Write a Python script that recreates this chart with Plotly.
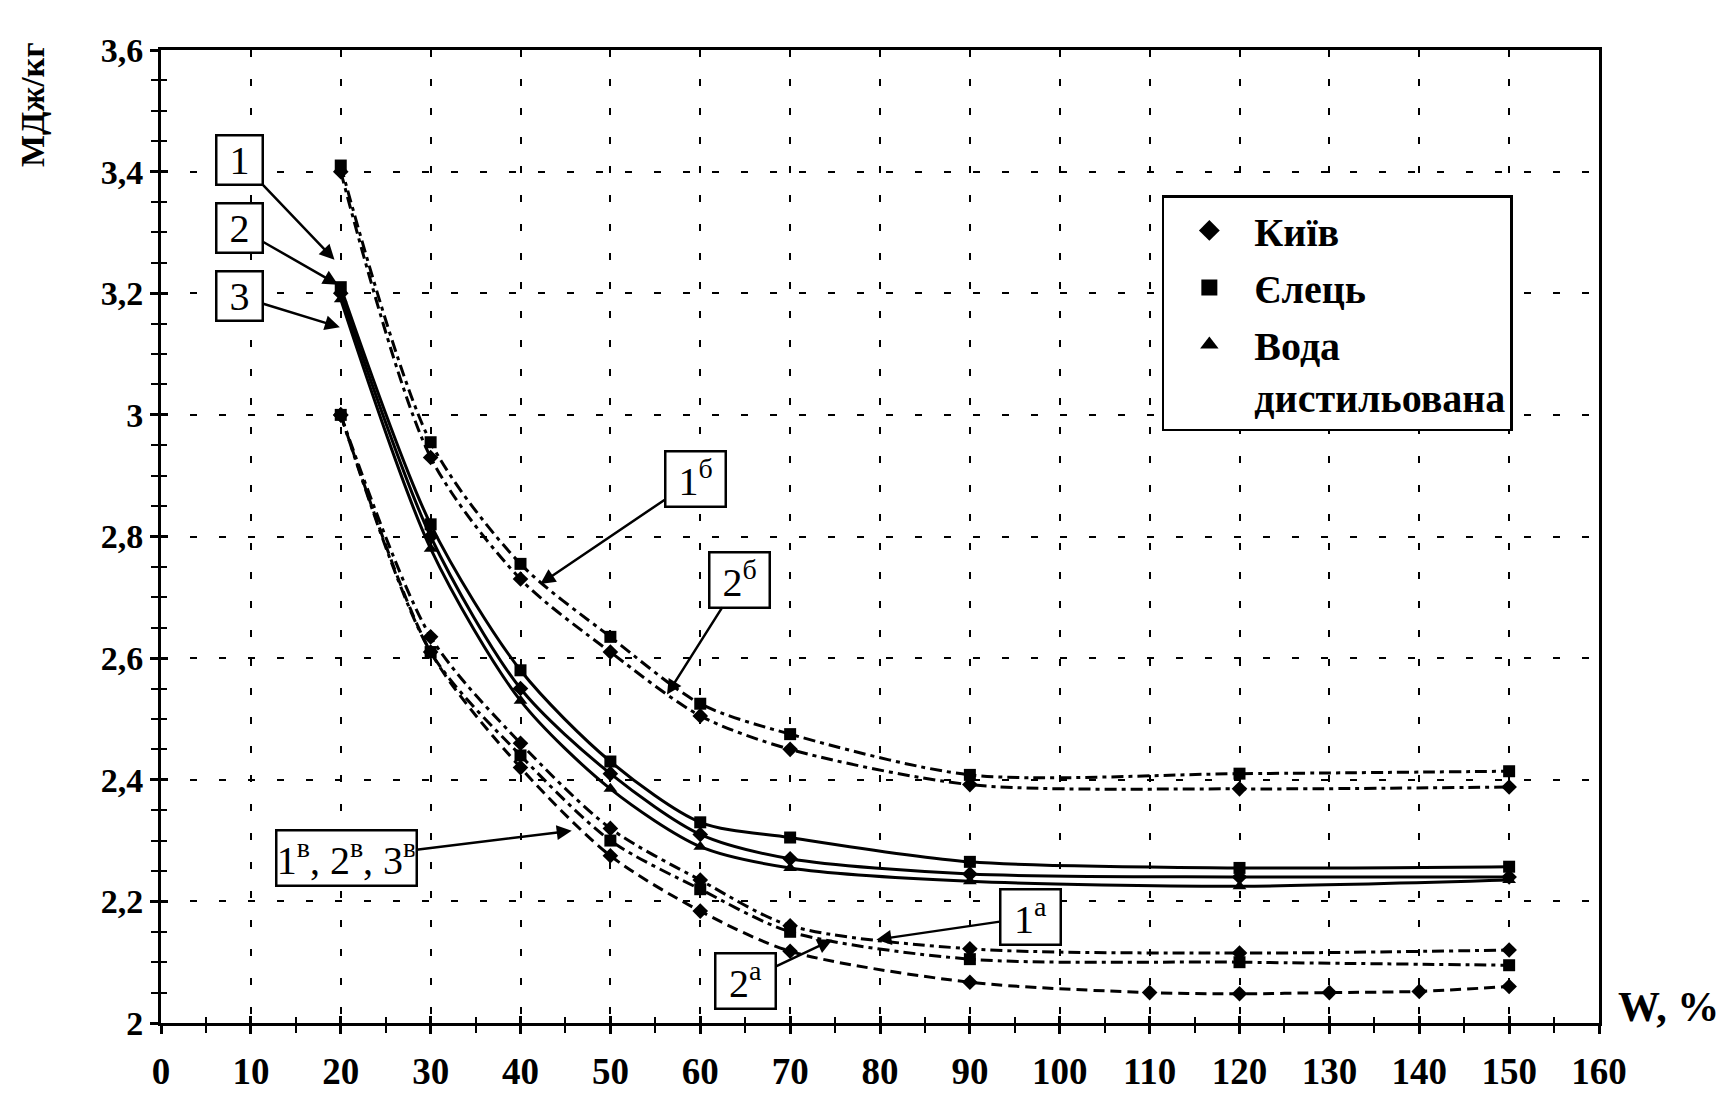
import plotly.graph_objects as go

# ---------------- data ----------------
W_main = [20, 30, 40, 50, 60, 70, 90, 120, 150]
W_low = [20, 30, 40, 50, 60, 70, 90, 110, 120, 130, 140, 150]

# solid curves 1, 2, 3
curve1 = [3.20, 2.80, 2.55, 2.41, 2.31, 2.27, 2.245, 2.24, 2.24]     # Київ
curve2 = [3.21, 2.82, 2.58, 2.43, 2.33, 2.305, 2.265, 2.255, 2.257]  # Єлець
curve3 = [3.19, 2.78, 2.53, 2.385, 2.29, 2.255, 2.233, 2.225, 2.235] # Вода

# upper dash-dot curves 1б, 2б
curve1b = [3.40, 2.93, 2.73, 2.61, 2.505, 2.45, 2.392, 2.385, 2.388]
curve2b = [3.41, 2.955, 2.755, 2.635, 2.525, 2.475, 2.408, 2.41, 2.414]

# lower curves 1а (dash-dot), 3в (dash-dot), 2а (dashed)
curve1a = [3.00, 2.635, 2.46, 2.32, 2.235, 2.16, 2.122, 2.115, 2.12]
curve3v = [3.00, 2.61, 2.44, 2.30, 2.22, 2.15, 2.105, 2.10, 2.095]
curve2a = [3.00, 2.61, 2.42, 2.275, 2.184, 2.118, 2.067, 2.05, 2.048, 2.05, 2.052, 2.06]

legend_names = ["Київ", "Єлець", "Вода<br>дистильована"]
legend_symbols = ["diamond", "square", "triangle-up"]

x_ticks = list(range(0, 161, 10))
y_ticks = [2.0, 2.2, 2.4, 2.6, 2.8, 3.0, 3.2, 3.4, 3.6]
y_ticklabels = ["2", "2,2", "2,4", "2,6", "2,8", "3", "3,2", "3,4", "3,6"]

FONT = "Liberation Serif"

fig = go.Figure()

def add_curve(x, y, dash, symbol, width=3):
    fig.add_trace(go.Scatter(
        x=x, y=y, mode="lines+markers",
        line=dict(color="black", width=width, dash=dash, shape="spline", smoothing=0.8),
        marker=dict(symbol=symbol, size=12, color="black"),
        showlegend=False, hoverinfo="x+y"))

add_curve(W_main, curve1, "solid", "diamond")
add_curve(W_main, curve2, "solid", "square")
add_curve(W_main, curve3, "solid", "triangle-up")
add_curve(W_main, curve1b, "12px,5px,4px,5px", "diamond")
add_curve(W_main, curve2b, "12px,5px,4px,5px", "square")
add_curve(W_main, curve1a, "12px,5px,4px,5px", "diamond")
add_curve(W_main, curve3v, "12px,5px,4px,5px", "square")
add_curve(W_low, curve2a, "11px,6px", "diamond")

for i, (name, sym) in enumerate(zip(legend_names, legend_symbols)):
    fig.add_trace(go.Scatter(
        x=[None], y=[None], mode="markers", name=name, legendgroup=f"g{i}",
        marker=dict(symbol=sym, size=24, color="black")))

# invisible trace on overlay axes (for crossing ticks)
fig.add_trace(go.Scatter(x=[0, 160], y=[2, 3.6], xaxis="x2", yaxis="y2", mode="markers",
                         marker=dict(opacity=0), showlegend=False, hoverinfo="skip"))

# ---------------- label boxes with arrows ----------------
labels = [
    ("1", 8.7, 3.419, 19.3, 3.255, 42),
    ("2", 8.7, 3.307, 19.7, 3.214, 42),
    ("3", 8.7, 3.195, 19.9, 3.144, 42),
    ("1<sup>б</sup>", 59.5, 2.895, 42.2, 2.722, 56),
    ("2<sup>б</sup>", 64.4, 2.729, 56.3, 2.540, 56),
    ("1<sup>в</sup>, 2<sup>в</sup>, 3<sup>в</sup>", 20.6, 2.271, 45.7, 2.316, 136),
    ("1<sup>а</sup>", 96.7, 2.174, 79.6, 2.137, 56),
    ("2<sup>а</sup>", 65.0, 2.069, 74.7, 2.137, 56),
]
for text, tx, ty, hx, hy, w in labels:
    fig.add_annotation(
        x=hx, y=hy, ax=tx, ay=ty, xref="x", yref="y", axref="x", ayref="y",
        text=text, showarrow=True, arrowhead=2, arrowsize=1.2, arrowwidth=2.5,
        arrowcolor="black", font=dict(family=FONT, size=40, color="black"),
        width=w, bordercolor="black", borderwidth=2.5, borderpad=1, bgcolor="white")

fig.add_annotation(
    x=-0.089, y=0.9435, xref="paper", yref="paper", text="<b>МДж/кг</b>", textangle=-90,
    showarrow=False, font=dict(family=FONT, size=34, color="black"),
    xanchor="center", yanchor="middle")
fig.add_annotation(
    x=1.0, y=0.0, xref="paper", yref="paper", text="<b>W, %</b>",
    showarrow=False, font=dict(family=FONT, size=42, color="black"),
    xanchor="left", yanchor="middle", xshift=17, yshift=16)

grid = dict(showgrid=True, gridcolor="black", gridwidth=2, griddash="7px,22px")

fig.update_xaxes(
    range=[0, 160], tickmode="array", tickvals=x_ticks,
    ticktext=[str(v) for v in x_ticks], automargin=False,
    tickfont=dict(family=FONT, size=37, color="black", weight="bold"),
    ticklabelstandoff=6,
    showline=True, linecolor="black", linewidth=3, mirror=True,
    ticks="outside", ticklen=8, tickwidth=2.5, tickcolor="black",
    minor=dict(dtick=5, ticks="outside", ticklen=7, tickwidth=2, tickcolor="black", showgrid=False),
    zeroline=False, **grid)
fig.update_yaxes(
    range=[2, 3.6], tickmode="array", tickvals=y_ticks, ticktext=y_ticklabels,
    automargin=False,
    tickfont=dict(family=FONT, size=34, color="black", weight="bold"),
    showline=True, linecolor="black", linewidth=3, mirror=True,
    ticks="outside", ticklen=8, tickwidth=2.5, tickcolor="black",
    minor=dict(dtick=0.05, ticks="outside", ticklen=7, tickwidth=2, tickcolor="black", showgrid=False),
    zeroline=False, **grid)

fig.update_layout(
    xaxis2=dict(overlaying="x", range=[0, 160], side="bottom", showgrid=False, zeroline=False,
                showticklabels=False, automargin=False, tickvals=x_ticks, ticks="inside",
                ticklen=7, tickwidth=2.5, tickcolor="black",
                minor=dict(dtick=5, ticks="inside", ticklen=6, tickwidth=2, tickcolor="black")),
    yaxis2=dict(overlaying="y", range=[2, 3.6], side="left", showgrid=False, zeroline=False,
                showticklabels=False, automargin=False, tickvals=y_ticks, ticks="inside",
                ticklen=7, tickwidth=2.5, tickcolor="black",
                minor=dict(dtick=0.05, ticks="inside", ticklen=6, tickwidth=2, tickcolor="black")),
)

fig.update_layout(
    width=1728, height=1094,
    margin=dict(l=161, r=129, t=50, b=71),
    plot_bgcolor="white", paper_bgcolor="white",
    font=dict(family=FONT, color="black"),
    legend=dict(
        x=0.696, y=0.8505, xanchor="left", yanchor="top", valign="top",
        bordercolor="black", borderwidth=2.5, bgcolor="white",
        font=dict(family=FONT, size=40, color="black", weight="bold"),
        itemwidth=80, tracegroupgap=2),
)

fig.write_html("out.html", config={"displayModeBar": False},
               post_script="document.body.style.margin='0';document.body.style.overflow='hidden';")
